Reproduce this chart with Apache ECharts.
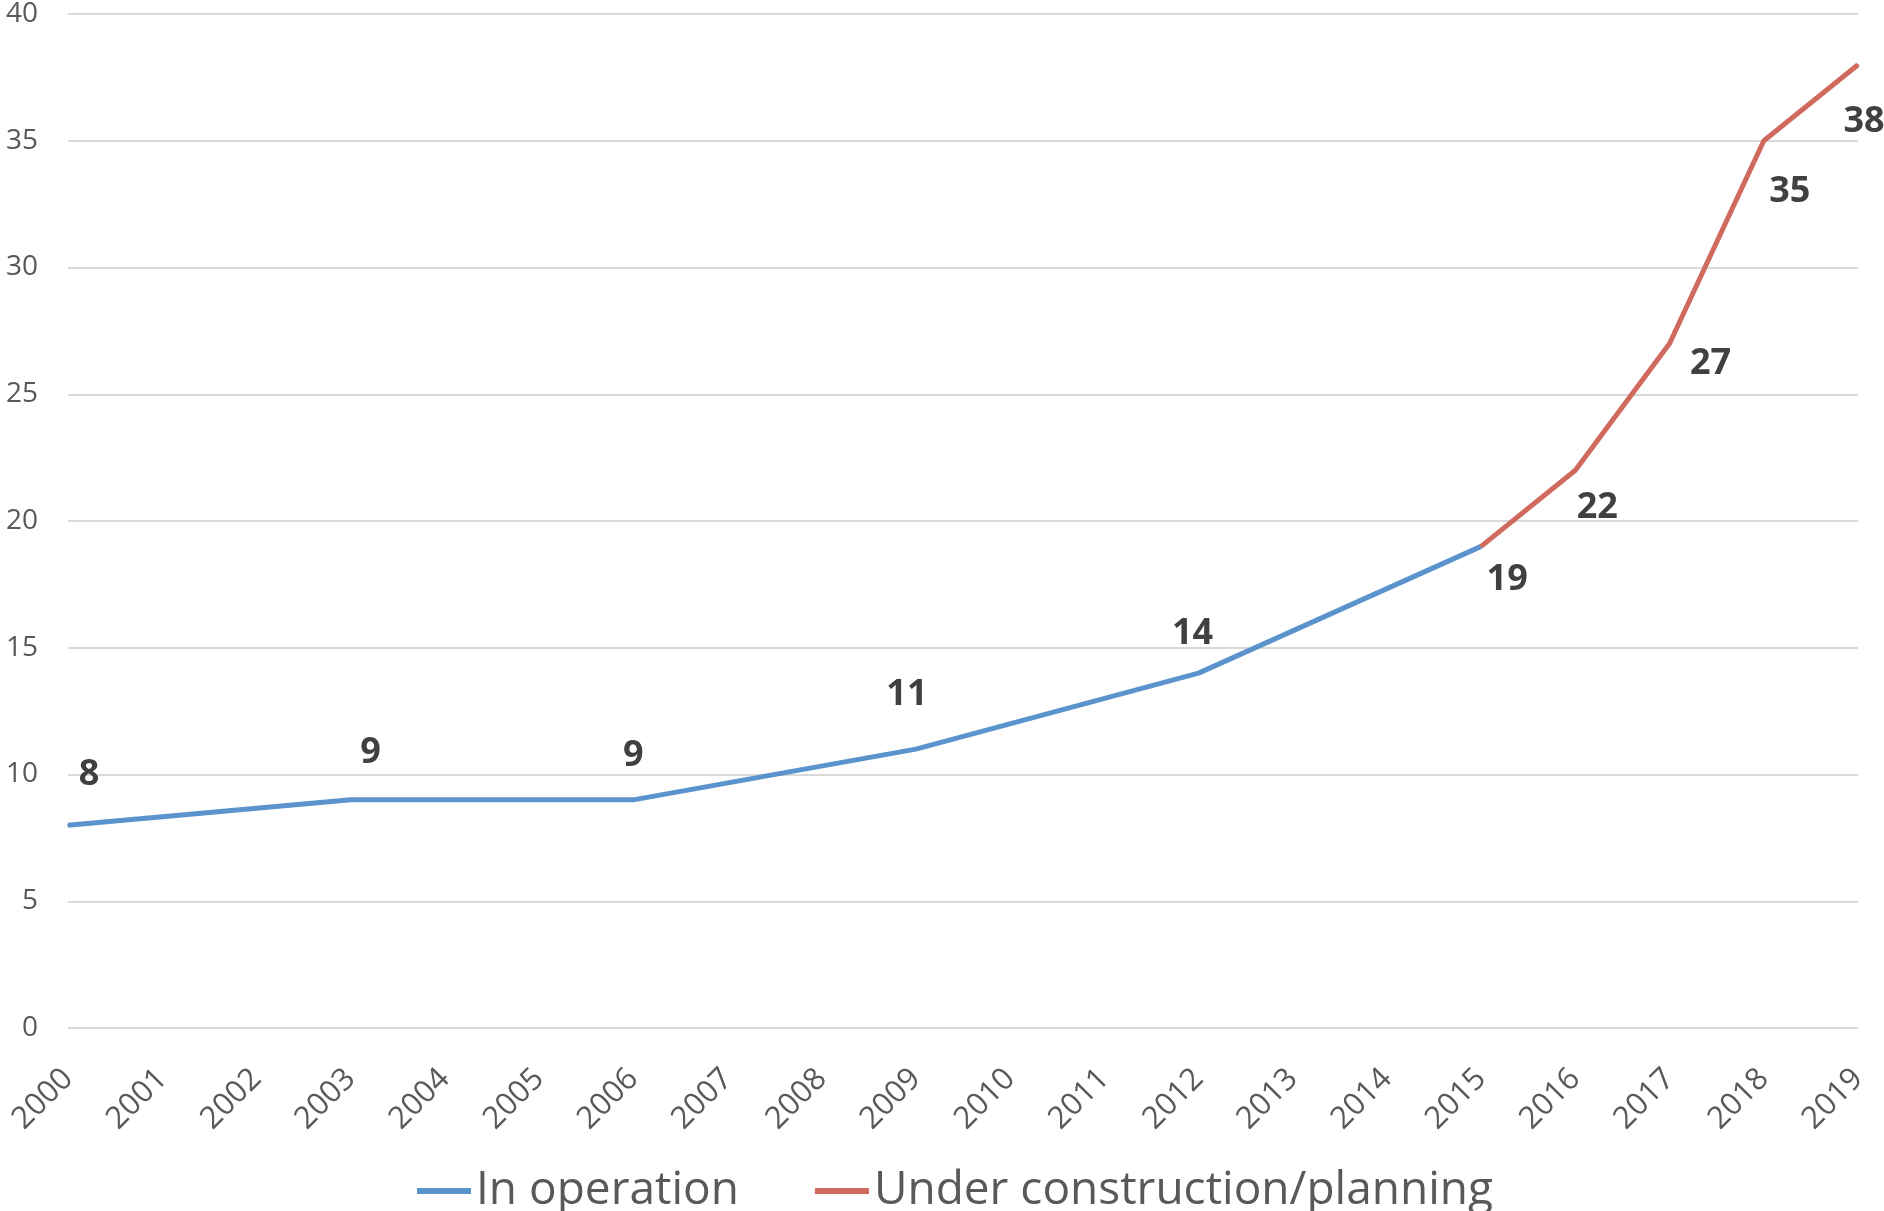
<!DOCTYPE html>
<html>
	<head>
		<meta charset="utf-8">
		<title></title>
		<script src="https://cdn.jsdelivr.net/npm/echarts@6/dist/echarts.min.js"></script>
		<style>
			html, body { margin: 0; padding: 0; background: #fff; }
		</style>
	</head>
	<body>
		<div id="my" style="width: 1884px;height: 1211px;"></div>

		<script>
			var years = ['2000','2001','2002','2003','2004','2005','2006','2007','2008','2009',
					'2010','2011','2012','2013','2014','2015','2016','2017','2018','2019'];

			// values, null where there is no point
			var inOperation = [8,null,null,9,null,null,9,null,null,11,null,null,14,null,null,19,null,null,null,null];
			var underConstruction = [null,null,null,null,null,null,null,null,null,null,null,null,null,null,null,19,22,27,35,38];

			// label nudges (px from the point), same order as the points that carry a label
			var blueNudge = [[21,-50],[20,-47],[0,-44],[-9,-54],[-6,-39]];
			var redNudge = [[26,33],[22,37],[41,20],[26,51],[6,57]];

			var font = "'Open Sans', sans-serif";

			function withLabels(values, nudges, skipIndex) {
				var k = 0;
				return values.map(function (v, i) {
					if (v === null) return null;
					if (i === skipIndex) return { value: v, label: { show: false } };
					var n = nudges[k++];
					return { value: v, label: { offset: n } };
				});
			}

			var myChart = echarts.init(document.getElementById('my'));

			var option = {
				animation: false,
				textStyle: { fontFamily: font },
				grid: {
					left: 68,
					right: 26,
					top: 9,
					bottom: 183
				},
				legend: {
					data: ['In operation', 'Under construction/planning'],
					left: 412,
					top: 1163,
					icon: 'rect',
					itemWidth: 54,
					itemHeight: 6,
					itemGap: 76,
					textStyle: {
						fontSize: 46,
						color: '#595959'
					}
				},
				xAxis: {
					type: 'category',
					data: years,
					boundaryGap: false,
					axisLine: { show: false },
					axisTick: { show: false },
					axisLabel: {
						rotate: 45,
						margin: 46,
						fontSize: 31,
						color: '#595959',
						interval: 0
					}
				},
				yAxis: {
					type: 'value',
					min: 0,
					max: 40,
					interval: 5,
					axisLine: { show: false },
					axisTick: { show: false },
					axisLabel: {
						margin: 30,
						fontSize: 28,
						color: '#595959'
					},
					splitLine: {
						lineStyle: { color: '#d9d9d9', width: 2 }
					}
				},
				series: [
					{
						name: 'In operation',
						type: 'line',
						data: withLabels(inOperation, blueNudge, 15),
						connectNulls: true,
						showAllSymbol: true,
						symbol: 'circle',
						symbolSize: 2,
						itemStyle: { color: '#5b93cc' },
						lineStyle: { color: '#5b93cc', width: 5 },
						label: {
							show: true,
							position: 'inside',
							fontSize: 36,
							fontWeight: 'bold',
							color: '#404040'
						},
						z: 2
					},
					{
						name: 'Under construction/planning',
						type: 'line',
						data: withLabels(underConstruction, redNudge, -1),
						connectNulls: true,
						showAllSymbol: true,
						symbol: 'circle',
						symbolSize: 2,
						itemStyle: { color: '#d0695e' },
						lineStyle: { color: '#d0695e', width: 5 },
						label: {
							show: true,
							position: 'inside',
							fontSize: 36,
							fontWeight: 'bold',
							color: '#404040'
						},
						z: 3
					}
				]
			};

			myChart.setOption(option);
		</script>
	</body>
</html>
